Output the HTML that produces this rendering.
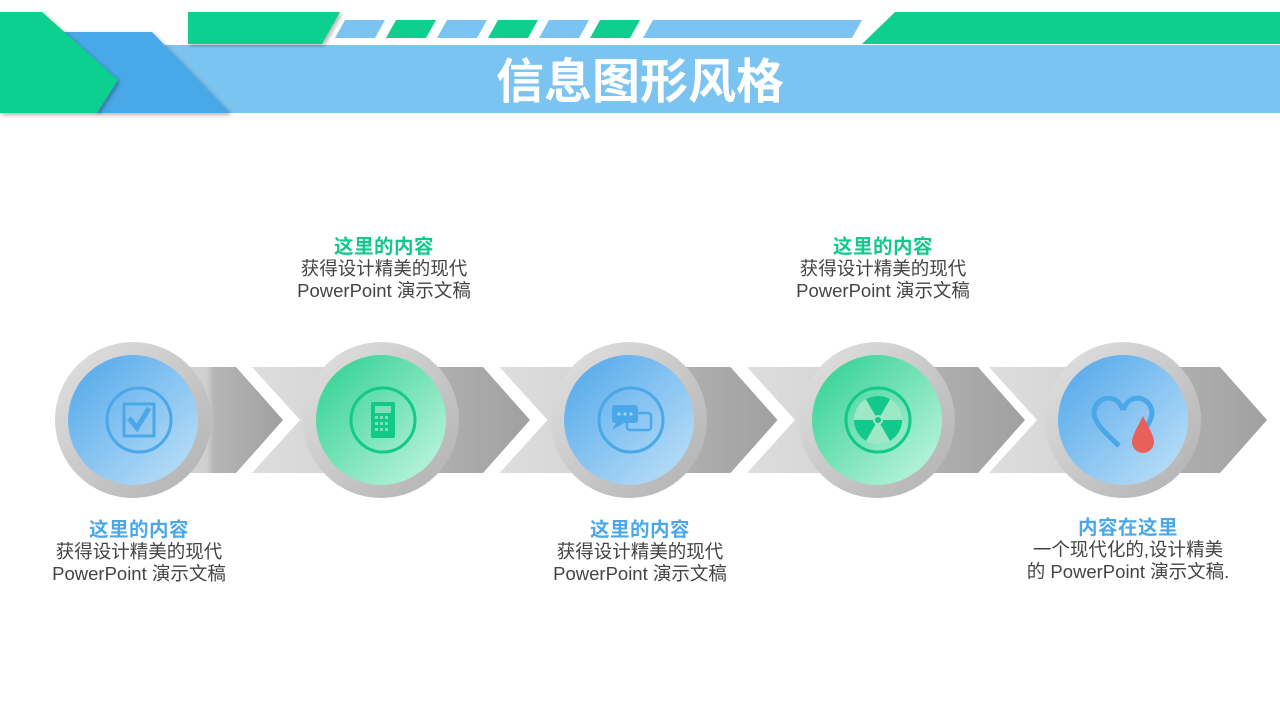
<!DOCTYPE html>
<html><head><meta charset="utf-8"><style>
body{margin:0;width:1280px;height:720px;overflow:hidden;background:#fff;font-family:"Liberation Sans","Noto Sans CJK SC",sans-serif}
.t{position:absolute;text-align:center;width:300px;font-size:18.5px;line-height:22px;color:#444}
.t b{display:block;font-size:19.5px;letter-spacing:0.5px}
.g b{color:#12c88a}.b b{color:#4aa8e8}
</style></head><body>
<svg width="1280" height="720" style="position:absolute;left:0;top:0">
<defs>
<linearGradient id="ar" x1="0" x2="1"><stop offset="0" stop-color="#dedede"/><stop offset="0.5" stop-color="#cfcfcf"/><stop offset="0.55" stop-color="#b5b5b5"/><stop offset="1" stop-color="#a0a0a0"/></linearGradient>
<linearGradient id="rg" x1="0" y1="0" x2="1" y2="1"><stop offset="0" stop-color="#e2e2e2"/><stop offset="1" stop-color="#b0b0b0"/></linearGradient>
<linearGradient id="bl" x1="0" y1="0" x2="1" y2="1"><stop offset="0" stop-color="#4ea6ea"/><stop offset="1" stop-color="#c2e2f8"/></linearGradient>
<linearGradient id="gr" x1="0" y1="0" x2="1" y2="1"><stop offset="0" stop-color="#2bcf8f"/><stop offset="1" stop-color="#c6f7e4"/></linearGradient>
<filter id="sh"><feDropShadow dx="2" dy="2" stdDeviation="2" flood-opacity="0.3"/></filter>
</defs>
<rect x="165" y="45" width="1115" height="68" fill="#7bc3f0"/>
<polygon points="188,12 340,12 322,44 188,44" fill="#0fcf8f" filter="url(#sh)"/>
<polygon points="862,44 895,12 1280,12 1280,44" fill="#0fcf8f"/>
<g fill="#7bc3f0"><polygon points="345,20 385,20 375,38 335,38"/><polygon points="447,20 487,20 477,38 437,38"/><polygon points="549,20 589,20 579,38 539,38"/><polygon points="653,20 862,20 852,38 643,38"/></g>
<g fill="#0fcf8f"><polygon points="396,20 436,20 426,38 386,38"/><polygon points="498,20 538,20 528,38 488,38"/><polygon points="600,20 640,20 630,38 590,38"/></g>
<polygon points="60,32 152,32 230,113 97,113" fill="#4aa8e8" filter="url(#sh)"/>
<polygon points="0,12 42,12 118,80 97,113 0,113" fill="#0fcf8f" filter="url(#sh)"/>
<text x="640" y="98" text-anchor="middle" font-size="48" font-weight="bold" fill="#fff" font-family="Liberation Sans,Noto Sans CJK SC,sans-serif">信息图形风格</text>
<polygon points="130,367 236,367 283,420 236,473 130,473" fill="url(#ar)"/>
<g id="seg"><polygon points="252,367 483,367 530,420 483,473 252,473 300,420" fill="url(#ar)"/></g>
<use href="#seg" x="247.5"/><use href="#seg" x="495"/><use href="#seg" x="737"/>
<g>
<circle cx="133" cy="420" r="78" fill="url(#rg)"/><circle cx="133" cy="420" r="65" fill="url(#bl)"/>
<circle cx="381" cy="420" r="78" fill="url(#rg)"/><circle cx="381" cy="420" r="65" fill="url(#gr)"/>
<circle cx="629" cy="420" r="78" fill="url(#rg)"/><circle cx="629" cy="420" r="65" fill="url(#bl)"/>
<circle cx="877" cy="420" r="78" fill="url(#rg)"/><circle cx="877" cy="420" r="65" fill="url(#gr)"/>
<circle cx="1123" cy="420" r="78" fill="url(#rg)"/><circle cx="1123" cy="420" r="65" fill="url(#bl)"/>
</g>
<g fill="none" stroke-width="3">
<circle cx="139" cy="420" r="32" stroke="#4aa8e8"/>
<rect x="124" y="404" width="30" height="32" stroke="#4aa8e8"/>
<path d="M129,418 l8,10 l12,-20" stroke="#4aa8e8" stroke-width="5"/>
<circle cx="383" cy="420" r="32" stroke="#12c88a"/>
<circle cx="631" cy="420" r="32" stroke="#4aa8e8"/>
<circle cx="878" cy="420" r="32" stroke="#12c88a"/>
<path d="M1123,410 c-8,-22 -34,-10 -28,8 c4,10 14,18 24,28 M1123,410 c8,-22 34,-10 28,8 c-2,6 -5,10 -8,14" stroke="#4aa8e8" stroke-width="5"/>
</g>
<rect x="371" y="402" width="24" height="36" rx="2" fill="#12c88a"/>
<rect x="375" y="406" width="16" height="7" fill="#7de0b8"/>
<g fill="#7de0b8"><rect x="375" y="416" width="3" height="3"/><rect x="380" y="416" width="3" height="3"/><rect x="385" y="416" width="3" height="3"/><rect x="375" y="422" width="3" height="3"/><rect x="380" y="422" width="3" height="3"/><rect x="385" y="422" width="3" height="3"/><rect x="375" y="428" width="3" height="3"/><rect x="380" y="428" width="3" height="3"/><rect x="385" y="428" width="3" height="3"/></g>
<rect x="612" y="405" width="26" height="18" rx="3" fill="#4aa8e8"/><polygon points="616,423 624,423 612,430" fill="#4aa8e8"/>
<rect x="627" y="413" width="24" height="17" rx="3" fill="none" stroke="#4aa8e8" stroke-width="2.5"/>
<g fill="#a8d4f4"><circle cx="619" cy="414" r="1.6"/><circle cx="625" cy="414" r="1.6"/><circle cx="631" cy="414" r="1.6"/></g>
<circle cx="878" cy="420" r="24" fill="#12c88a"/>
<g fill="#9ee8c8"><path d="M878,420 L866,399 A24,24 0 0 1 890,399Z" transform="rotate(180 878 420)"/><path d="M878,420 L866,399 A24,24 0 0 1 890,399Z" transform="rotate(60 878 420)"/><path d="M878,420 L866,399 A24,24 0 0 1 890,399Z" transform="rotate(300 878 420)"/><circle cx="878" cy="420" r="5"/></g>
<circle cx="878" cy="420" r="3" fill="#12c88a"/>
<path d="M1143,416 C1136,430 1132,436 1132,442 a11,11 0 0 0 22,0 C1154,436 1150,430 1143,416Z" fill="#e8605a"/>
</svg>
<div class="t g" style="left:234px;top:236px"><b>这里的内容</b>获得设计精美的现代<br>PowerPoint 演示文稿</div>
<div class="t g" style="left:733px;top:236px"><b>这里的内容</b>获得设计精美的现代<br>PowerPoint 演示文稿</div>
<div class="t b" style="left:-11px;top:519px"><b>这里的内容</b>获得设计精美的现代<br>PowerPoint 演示文稿</div>
<div class="t b" style="left:490px;top:519px"><b>这里的内容</b>获得设计精美的现代<br>PowerPoint 演示文稿</div>
<div class="t b" style="left:978px;top:517px"><b>内容在这里</b>一个现代化的,设计精美<br>的 PowerPoint 演示文稿.</div>
</body></html>
